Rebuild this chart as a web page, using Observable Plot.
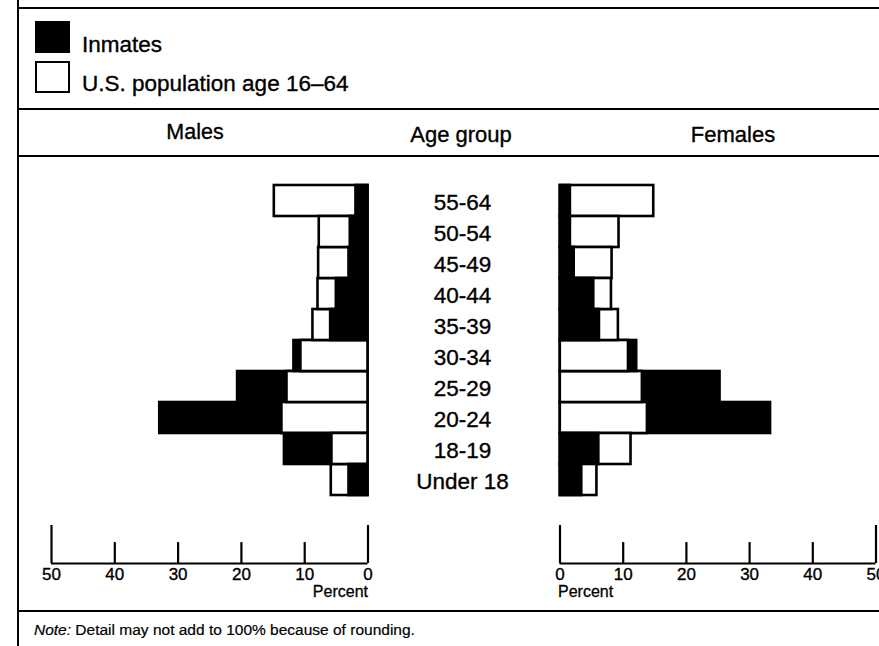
<!DOCTYPE html>
<html>
<head>
<meta charset="utf-8">
<script src="https://cdn.jsdelivr.net/npm/d3@7"></script>
<script src="https://cdn.jsdelivr.net/npm/@observablehq/plot@0.6"></script>
<style>
  html, body { margin: 0; padding: 0; background: #fff; overflow: hidden; }
  #chart { position: relative; width: 879px; height: 646px; overflow: hidden; background: #fff;
    font-family: "Liberation Sans", Arial, Helvetica, sans-serif; color: #000; }
  .abs { position: absolute; }
  .hline { position: absolute; height: 2px; background: #000; }
  .vline { position: absolute; width: 2px; background: #000; }
  .txt { position: absolute; white-space: nowrap; line-height: 1; -webkit-text-stroke: 0.35px #000; }
  svg { background: transparent !important; }
</style>
</head>
<body>
<div id="chart"></div>
<script>
// ---- data ----
const ages = ["55-64", "50-54", "45-49", "40-44", "35-39", "30-34", "25-29", "20-24", "18-19", "Under 18"];
const maleInmates   = [1.9, 2.8, 3.0, 5.0, 5.9, 11.7, 20.6, 32.9, 13.2, 3.0];
const maleUS        = [14.8, 7.7, 7.8, 7.9, 8.7, 10.6, 12.8, 13.6, 5.7, 5.8];
const femaleInmates = [1.6, 1.6, 2.2, 5.3, 6.2, 12.1, 25.3, 33.3, 6.1, 3.4];
const femaleUS      = [14.8, 9.3, 8.2, 8.1, 9.2, 10.8, 13.0, 13.8, 11.2, 5.8];
const tickValues = [0, 10, 20, 30, 40, 50];
const seriesNames = ["Inmates", "U.S. population age 16\u201364"];
const headers = ["Males", "Age group", "Females"];
const noteLabel = "Note:";
const noteText = " Detail may not add to 100% because of rounding.";

const FONT = "Liberation Sans, Arial, Helvetica, sans-serif";
const chart = document.getElementById("chart");
function el(cls, style, html) {
  const d = document.createElement("div");
  d.className = cls;
  Object.assign(d.style, style);
  if (html != null) d.innerHTML = html;
  chart.appendChild(d);
  return d;
}

// frame lines
el("vline", {left: "17px", top: "0px", height: "646px"});
el("hline", {left: "17px", top: "7px", width: "862px"});
el("hline", {left: "17px", top: "108px", width: "862px"});
el("hline", {left: "17px", top: "155px", width: "862px"});
el("hline", {left: "17px", top: "610px", width: "862px"});

// legend
el("abs", {left: "35px", top: "21px", width: "35px", height: "32px", background: "#000"});
el("abs", {left: "35px", top: "61px", width: "31px", height: "28px", border: "2px solid #000", background: "#fff"});
el("txt", {left: "82px", top: "34px", fontSize: "22.5px"}, seriesNames[0]);
el("txt", {left: "82px", top: "73px", fontSize: "22.5px"}, seriesNames[1]);

// headers
el("txt", {left: "195px", top: "122px", fontSize: "21.5px", transform: "translateX(-50%)"}, headers[0]);
el("txt", {left: "461px", top: "124px", fontSize: "22px", transform: "translateX(-50%)"}, headers[1]);
el("txt", {left: "733px", top: "124px", fontSize: "22px", transform: "translateX(-50%)"}, headers[2]);

// note
el("txt", {left: "34px", top: "622px", fontSize: "15.5px", webkitTextStroke: "0.2px #000"}, "<i>" + noteLabel + "</i>" + noteText);

// build rows: draw larger bar first so the smaller one sits in front
function rows(inm, us) {
  const r = [];
  ages.forEach((a, i) => {
    r.push({age: a, series: seriesNames[0], value: inm[i]});
    r.push({age: a, series: seriesNames[1], value: us[i]});
  });
  return r.sort((p, q) => d3.descending(p.value, q.value));
}

const barTop = 170, barH = 340;
const plotStyle = {background: "transparent", overflow: "visible", fontFamily: FONT};
function barPlot(data, xDomain, xRange, width) {
  return Plot.plot({
    width, height: barH,
    margin: 0,
    style: plotStyle,
    x: {domain: xDomain, range: xRange, axis: null},
    y: {type: "band", domain: ages, range: [13, 327], padding: 0, axis: null},
    marks: [
      Plot.barX(data, {
        x1: () => 0, x2: "value", y: "age",
        fill: d => d.series === seriesNames[0] ? "black" : "white",
        stroke: "black", strokeWidth: 2.6, inset: 0
      })
    ]
  });
}

function axisPlot(xDomain, xRange, width, percentAnchor, percentDx) {
  return Plot.plot({
    width, height: 95,
    margin: 0,
    style: plotStyle,
    x: {domain: xDomain, range: xRange, axis: null},
    y: {domain: [0, 1], range: [48, 10], axis: null},
    marks: [
      Plot.ruleY([0], {x1: () => 0, x2: () => 50, stroke: "black", strokeWidth: 2.2}),
      Plot.ruleX(tickValues, {x: d => d, y1: () => 0, y2: d => (d === 0 || d === 50) ? 1 : 0.55, stroke: "black", strokeWidth: 2.2}),
      Plot.text(tickValues, {x: d => d, y: () => 0, dy: 11, text: d => String(d), fontSize: 17, fill: "black", stroke: "black", strokeWidth: 0.35, lineAnchor: "middle"}),
      Plot.text(["Percent"], {x: () => 0, y: () => 0, dy: 28, dx: percentDx, text: d => d, fontSize: 16, fill: "black", stroke: "black", strokeWidth: 0.3, textAnchor: percentAnchor, lineAnchor: "middle"})
    ]
  });
}

function place(node, left, top) {
  node.style.position = "absolute";
  node.style.left = left + "px";
  node.style.top = top + "px";
  chart.appendChild(node);
}

// males (reversed axis)
place(barPlot(rows(maleInmates, maleUS), [50, 0], [51, 367.5], 380), 0, barTop);
place(axisPlot([50, 0], [51, 367.5], 380, "end", 0), 0, 515);

// females
place(barPlot(rows(femaleInmates, femaleUS), [0, 50], [19.8, 335.5], 339), 540, barTop);
place(axisPlot([0, 50], [19.5, 335.5], 339, "start", -2), 540, 515);

// age-group labels (middle column)
place(Plot.plot({
  width: 192, height: barH, margin: 0,
  style: plotStyle,
  y: {type: "band", domain: ages, range: [13, 327], padding: 0, axis: null},
  marks: [
    Plot.text(ages, {y: d => d, text: d => d, frameAnchor: "middle", dx: -1, dy: 1.5, fontSize: 22.5, fill: "black", stroke: "black", strokeWidth: 0.35})
  ]
}), 367, barTop);
</script>
</body>
</html>
